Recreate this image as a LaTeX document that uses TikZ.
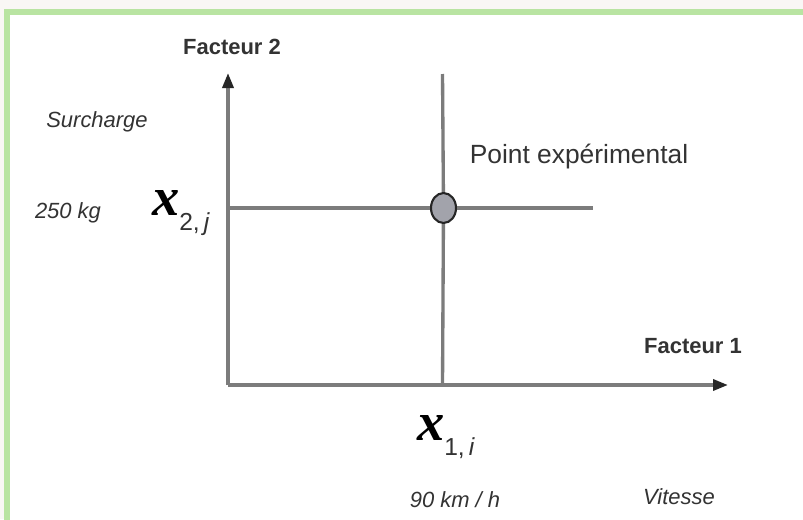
\documentclass[tikz,border=0pt]{standalone}
\usepackage{fontspec}
\setmainfont{Liberation Sans}
\newfontfamily\serifx{Liberation Serif}
\usetikzlibrary{arrows.meta, shapes.geometric, positioning}
\usepackage{xcolor}
\definecolor{frameg}{HTML}{B9E4A2}
\definecolor{pagebg}{HTML}{F9F7F5}
\definecolor{ink}{HTML}{333333}
\definecolor{axisg}{HTML}{7C7C7C}
\definecolor{ptfill}{HTML}{A2A3AB}

\newcommand{\xvar}[2]{{\serifx\bfseries\itshape\fontsize{31}{31}\selectfont x}\raisebox{-1.6ex}{\color{ink}\fontsize{14}{14}\selectfont #1,\,\textit{#2}}}

\begin{document}
\begin{tikzpicture}[
  axis/.style={draw=axisg, line width=1.9pt},
  axisarrow/.style={axis, -{Triangle[length=3mm, width=2.2mm, color=black!85]}},
  guide/.style={draw=axisg, line width=1.9pt},
  lbl/.style={text=ink, font=\fontsize{12.5}{14}\selectfont\bfseries, inner sep=0pt},
  unit/.style={text=ink, font=\fontsize{12.5}{14}\selectfont\itshape, inner sep=0pt},
  var/.style={text=black, inner sep=0pt},
  point/.style={ellipse, draw=black!85, line width=1.2pt, fill=ptfill, minimum width=5mm, minimum height=6mm, inner sep=0pt}
]
\useasboundingbox (0,0) rectangle (16.06,10.38);
\fill[pagebg] (0,0) rectangle (16.06,10.38);
\fill[white] (0.14,0) rectangle (16.06,10.14);
\draw[frameg, line width=3pt] (0.14,-0.2) -- (0.14,10.14) -- (16.3,10.14);

% axes
\coordinate (origin) at (4.56,2.68);
\coordinate (ytip) at (4.56,8.92);
\coordinate (xtip) at (14.56,2.68);
\draw[axisarrow] (origin) -- (ytip);
\draw[axisarrow] (origin) -- (xtip);

% experimental point and its guides
\node[point] (pt) at (8.87,6.22) {};
\coordinate (vtop) at (8.85,8.9);
\coordinate (vbot) at (8.85,2.68);
\coordinate (hleft) at (4.56,6.22);
\coordinate (hright) at (11.86,6.22);
\draw[guide] (vtop) -- (pt);
\draw[guide] (pt) -- (vbot);
\draw[guide] (hleft) -- (pt);
\draw[guide] (pt) -- (hright);

\node[lbl] (f2) at (4.64,9.44) {Facteur 2};
\node[lbl] (f1) at (13.86,3.46) {Facteur 1};
\node[text=ink, font=\fontsize{15}{17}\selectfont, inner sep=0pt] (ptlbl) at (11.58,7.24) {Point expérimental};

\node[unit] (surch) at (1.94,7.94) {Surcharge};
\node[unit] (load) at (1.36,6.12) {250 kg};
\node[unit] (speed) at (9.1,0.38) {90 km / h};
\node[unit] (vit) at (13.58,0.44) {Vitesse};

\node[var] (x2) at (3.62,6.12) {\xvar{2}{j}};
\node[var] (x1) at (8.92,1.64) {\xvar{1}{i}};
\end{tikzpicture}
\end{document}
